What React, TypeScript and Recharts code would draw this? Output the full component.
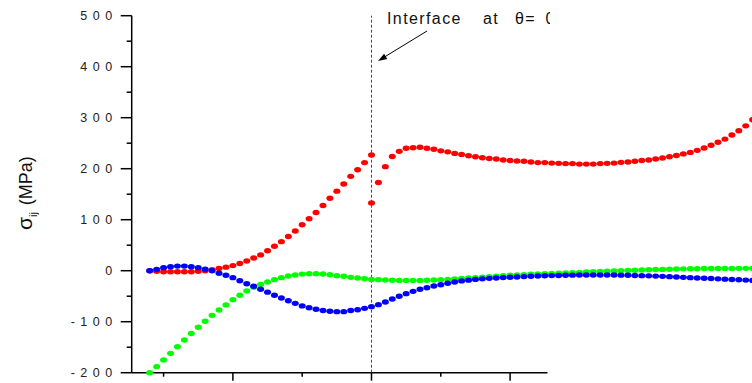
import React from 'react';
import { ScatterChart, Scatter, XAxis, YAxis, ReferenceLine } from 'recharts';

// sample index along the path (interface at 0)
const thetaLeft = [-32,-31,-30,-29,-28,-27,-26,-25,-24,-23,-22,-21,-20,-19,-18,-17,-16,-15,-14,-13,-12,-11,-10,-9,-8,-7,-6,-5,-4,-3,-2,-1,0];
const thetaRight = [0,1,2,3,4,5,6,7,8,9,10,11,12,13,14,15,16,17,18,19,20,21,22,23,24,25,26,27,28,29,30,31,32,33,34,35,36,37,38,39,40,41,42,43,44,45,46,47,48,49,50,51,52,53,54,55];
const thetaAll = [...thetaLeft, ...thetaRight.slice(1)];

const redLeft = [0,-1,-2,-2,-2,-2,-2,-1,0,2,4.5,7,10,14,19,25,31,39,48,57,67,78,90,102,114,128,142,156,170,185,198,212,227];
const redRight = [133,173,204,224,234,240,241,242,240,238,235,233,230,228,225.5,223.5,221.5,220,219,217,216,215,214.5,213,212,212,211,210.5,210,210,209,209,209,210,210.5,211,212.5,213,214.5,216,217,219,221,223.5,226,229,232,236,240.5,246,252,258,266,274.5,284,296];
const green = [-200,-188,-175,-162,-149,-136,-123,-111,-99,-87.5,-77,-67,-57,-48,-39.5,-32.5,-27,-22,-17.5,-13.6,-10.5,-8.4,-6.7,-6,-5.9,-6.5,-7.8,-9.8,-11,-13,-14.3,-15.7,-17,
  -17.6,-18.2,-18.8,-19,-19,-19,-19,-18.6,-18.2,-17.6,-16.9,-16.3,-15,-14.3,-13.5,-12.5,-11.7,-10.8,-9.8,-9,-8.4,-7.8,-7,-6.5,-5.9,-5.2,-4.9,-4.5,-3.9,-3.3,-2.6,-2,-1.6,-1,-0.7,0,0.6,1,1.3,2,2.3,2.6,2.9,3.3,3.6,3.9,3.9,4.2,4.2,4.5,4.5,4.5,4.6,4.6,4.7];
const blue = [0,2.7,6,8,9,9,8,6,3,0,-5,-9,-13.6,-19.6,-25.5,-30.5,-36.5,-42,-48,-53.5,-59,-64,-69,-72.5,-75.7,-78,-79.6,-80.3,-80.3,-78,-76.5,-73.8,-70.5,
  -66.6,-61.4,-55.5,-50,-45,-40.5,-36.5,-33.3,-30,-27.4,-24.7,-22,-20,-18.5,-17,-16,-15,-14.2,-13.5,-12.8,-12.2,-11.6,-11,-10.5,-10,-9.6,-9.3,-9,-8.7,-8.5,-8.4,-8.3,-8.3,-8.4,-8.5,-8.7,-9,-9.3,-9.7,-10.1,-10.6,-11.1,-11.7,-12.3,-13,-13.6,-14.2,-14.8,-15.4,-16,-16.6,-17.2,-17.8,-18.4,-19];

// axis ticks: major ones are longer (and labelled on y)
const xTicks = [-30, -20, -10, 0, 10, 20];
const xMajorTicks = [-20, 0, 20];
const yTicks = [-200, -150, -100, -50, 0, 50, 100, 150, 200, 250, 300, 350, 400, 450, 500];
const yMajorTicks = [-200, -100, 0, 100, 200, 300, 400, 500];

const X_MIN = -34.6;
const X_MAX = 56.06;
const X_AXIS_END = 25.4;

const FONT = "'Liberation Sans', Arial, sans-serif";
const TICK_FONT = 12.5;
const TICK_SPACING = 5.5;

const toPoints = (xs: number[], ys: number[]) => xs.map((x, i) => ({ x, y: ys[i] }));

const dot = (color: string) => (props: any) => (
  <ellipse cx={props.cx} cy={props.cy} rx={3.5} ry={2.7} fill={color} />
);

// approximate visible width of a letter-spaced label
const labelWidth = (s: string) => {
  let w = 0;
  for (const ch of s) w += (ch === '-' ? 0.333 : 0.556) * TICK_FONT;
  return w + (s.length - 1) * TICK_SPACING;
};

// y: tickSize 11, tickMargin 3 -> axis line at x + 14
const YTick = (props: any) => {
  const x = Number(props.x);
  const y = Number(props.y);
  const v = props.payload.value;
  const major = yMajorTicks.includes(v);
  const axisX = x + 14;
  const label = String(v);
  const labelRight = axisX - 19.5;
  return (
    <g>
      <line x1={axisX - (major ? 11 : 5)} x2={axisX} y1={y} y2={y} stroke="#000" strokeWidth={1.5} />
      {major && (
        <text x={labelRight - labelWidth(label)} y={y} dy={4.4} textAnchor="start" fontSize={TICK_FONT} letterSpacing={TICK_SPACING} fill="#222" fontFamily={FONT}>
          {label}
        </text>
      )}
    </g>
  );
};

// x: tickSize 8, tickMargin 0 -> tick end at y
const XTick = (props: any) => {
  const x = Number(props.x);
  const y = Number(props.y);
  const major = xMajorTicks.includes(props.payload.value);
  return <line x1={x} x2={x} y1={y - 8} y2={y - 8 + (major ? 8 : 4)} stroke="#000" strokeWidth={1.5} />;
};

export default function App() {
  return (
    <div style={{ position: 'absolute', left: 0, top: 0, width: 752, height: 383, overflow: 'hidden', background: '#fff' }}>
      <ScatterChart width={760} height={383} margin={{ top: 15.7, right: 0, bottom: 10.28, left: 0 }}>
        <YAxis yAxisId="y" type="number" dataKey="y" domain={[-200, 500]} ticks={yTicks} interval={0} width={131.7} tickSize={11} tickMargin={3} tick={YTick} tickLine={false} axisLine={{ stroke: '#000', strokeWidth: 1.5 }} />
        <XAxis xAxisId="x" type="number" dataKey="x" domain={[X_MIN, X_MAX]} ticks={xTicks} interval={0} tick={XTick} tickSize={8} tickMargin={0} tickLine={false} axisLine={false} height={0.01} />
        <ReferenceLine xAxisId="x" yAxisId="y" segment={[{ x: X_MIN, y: -200 }, { x: X_AXIS_END, y: -200 }]} stroke="#000" strokeWidth={1.5} />
        <ReferenceLine xAxisId="x" yAxisId="y" x={0} stroke="#ee0000" strokeWidth={1} strokeDasharray="3 2" />
        <Scatter xAxisId="x" yAxisId="y" data={toPoints(thetaLeft, redLeft)} shape={dot('#ff0000')} isAnimationActive={false} />
        <Scatter xAxisId="x" yAxisId="y" data={toPoints(thetaRight, redRight)} shape={dot('#ff0000')} isAnimationActive={false} />
        <Scatter xAxisId="x" yAxisId="y" data={toPoints(thetaAll, green)} shape={dot('#00ff00')} isAnimationActive={false} />
        <Scatter xAxisId="x" yAxisId="y" data={toPoints(thetaAll, blue)} shape={dot('#0000ff')} isAnimationActive={false} />
      </ScatterChart>
      <svg width={752} height={383} style={{ position: 'absolute', left: 0, top: 0, pointerEvents: 'none' }}>
        <defs>
          <clipPath id="annClip">
            <rect x={0} y={0} width={550} height={383} />
          </clipPath>
        </defs>
        <text transform="translate(32,230) rotate(-90)" textAnchor="start" fontFamily={FONT} fontSize={18} fill="#111">
          <tspan fontSize={21}>σ</tspan>
          <tspan fontSize={11} dy={5}>ij</tspan>
          <tspan dx={2} dy={-5}> (MPa)</tspan>
        </text>
        <text y={24} fontFamily={FONT} fontSize={16} letterSpacing={1.4} fill="#111" clipPath="url(#annClip)">
          <tspan x={387}>Interface</tspan>
          <tspan x={483}>at</tspan>
          <tspan x={515}>θ=</tspan>
          <tspan x={545.5}>0</tspan>
        </text>
        <line x1={427} y1={31} x2={384} y2={57.3} stroke="#000" strokeWidth={1} />
        <polygon points="378,61 387.3,58.9 384.1,53.7" fill="#000" />
      </svg>
    </div>
  );
}
